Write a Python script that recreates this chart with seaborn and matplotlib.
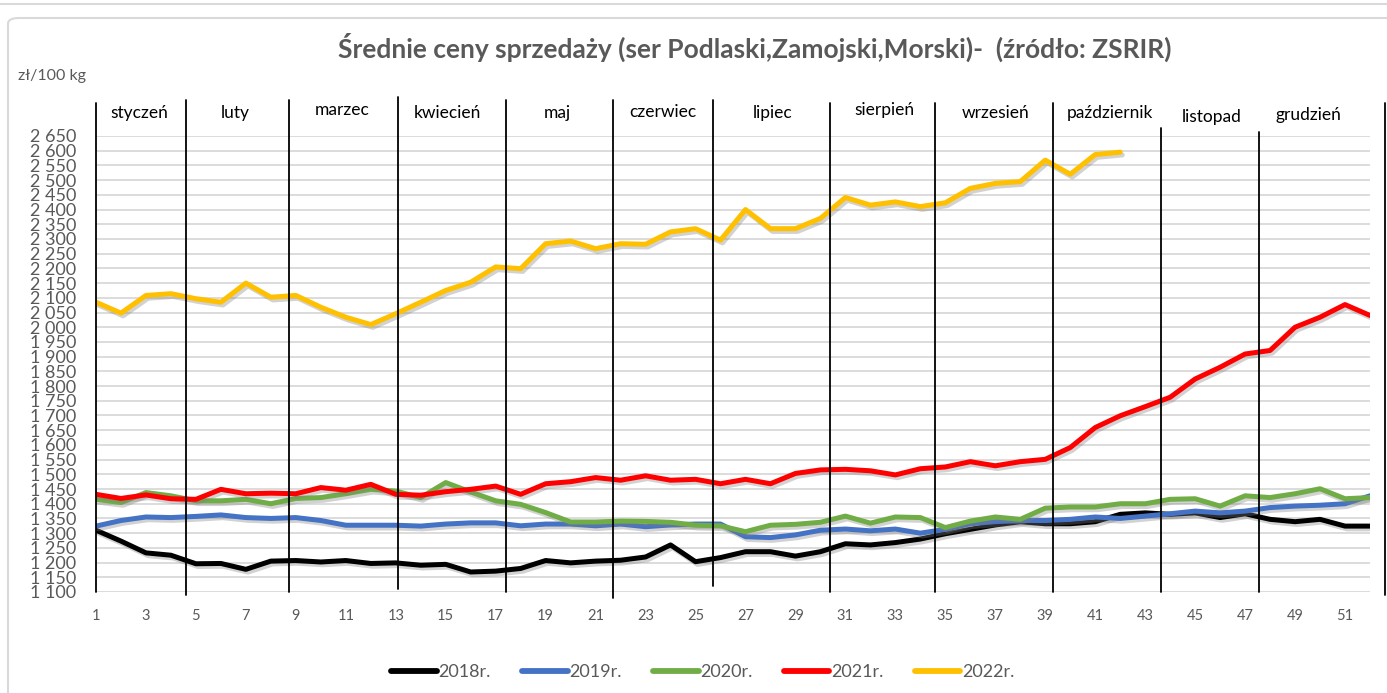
import matplotlib
matplotlib.use("Agg")
import matplotlib.pyplot as plt
import matplotlib.patheffects as pe
from matplotlib.patches import FancyBboxPatch
import seaborn as sns
import numpy as np
import pandas as pd

# ---------------- data ----------------
weeks = list(range(1, 53))
y2018 = [1310, 1273, 1233, 1225, 1196, 1197, 1177, 1205, 1207, 1202, 1207, 1197, 1199, 1191, 1194, 1168,
         1171, 1180, 1207, 1199, 1205, 1208, 1219, 1260, 1203, 1217, 1237, 1237, 1222, 1237, 1264, 1260,
         1268, 1280, 1298, 1313, 1328, 1339, 1332, 1332, 1339, 1364, 1369, 1364, 1369, 1353, 1366, 1347,
         1339, 1347, 1324, 1324]
y2019 = [1324, 1343, 1355, 1353, 1357, 1362, 1353, 1350, 1353, 1343, 1327, 1327, 1327, 1324, 1331, 1335,
         1335, 1325, 1331, 1331, 1325, 1331, 1322, 1328, 1331, 1331, 1288, 1285, 1294, 1310, 1314, 1308,
         1314, 1300, 1313, 1332, 1339, 1343, 1343, 1347, 1355, 1350, 1358, 1366, 1375, 1369, 1375, 1387,
         1392, 1395, 1400, 1427]
y2020 = [1415, 1404, 1438, 1427, 1410, 1410, 1415, 1400, 1418, 1421, 1434, 1449, 1443, 1421, 1472, 1440,
         1410, 1398, 1370, 1338, 1338, 1341, 1340, 1337, 1327, 1325, 1305, 1327, 1330, 1337, 1358, 1334,
         1355, 1353, 1319, 1341, 1355, 1347, 1385, 1389, 1389, 1400, 1400, 1415, 1417, 1392, 1427, 1421,
         1434, 1451, 1417, 1421]
y2021 = [1432, 1418, 1430, 1417, 1415, 1449, 1434, 1436, 1434, 1455, 1446, 1466, 1432, 1429, 1441, 1449,
         1460, 1432, 1468, 1475, 1489, 1480, 1495, 1480, 1483, 1468, 1483, 1468, 1503, 1515, 1517, 1512,
         1498, 1519, 1525, 1543, 1529, 1543, 1551, 1591, 1659, 1699, 1730, 1762, 1824, 1864, 1909, 1921,
         2000, 2034, 2077, 2040]
y2022 = [2085, 2048, 2108, 2114, 2097, 2085, 2150, 2102, 2108, 2068, 2034, 2009, 2046, 2085, 2125, 2153,
         2205, 2199, 2284, 2293, 2267, 2284, 2282, 2324, 2335, 2296, 2400, 2335, 2335, 2370, 2441, 2415,
         2426, 2410, 2423, 2472, 2489, 2495, 2568, 2520, 2587, 2595]
series_labels = ["2018r.", "2019r.", "2020r.", "2021r.", "2022r."]
months = ["styczeń", "luty", "marzec", "kwiecień", "maj", "czerwiec", "lipiec",
          "sierpień", "wrzesień", "październik", "listopad", "grudzień"]
title = "Średnie ceny sprzedaży (ser Podlaski,Zamojski,Morski)-  (źródło: ZSRIR)"
unit_label = "zł/100 kg"
y_ticks = list(range(1100, 2651, 50))
x_ticks = list(range(1, 52, 2))

# ---------------- layout / style ----------------
colors = ["#000000", "#4472C4", "#70AD47", "#FF0000", "#FFC000"]
sep_x = [1.0, 4.6, 8.73, 13.09, 17.41, 21.7, 25.7, 30.38, 34.59, 39.31, 43.63, 47.56, 52.6]
sep_top = [2762, 2773, 2773, 2783, 2773, 2773, 2773, 2762, 2762, 2762, 2677, 2664, 2762]
sep_bot = [1100, 1090, 1100, 1110, 1100, 1080, 1120, 1100, 1100, 1100, 1100, 1100, 1090]
lab_x = [2.72, 6.56, 10.85, 15.05, 19.45, 23.7, 28.1, 32.55, 37.03, 41.6, 45.68, 49.52]
lab_y = [2728, 2728, 2739, 2728, 2728, 2733, 2728, 2739, 2728, 2728, 2715, 2722]

sns.set_theme(style="white")
plt.rcParams["font.family"] = ["Lato", "DejaVu Sans"]

W, H = 1387, 693
fig = plt.figure(figsize=(W / 100, H / 100), dpi=100)
fig.patch.set_facecolor("white")

# frame of chart area
fig.add_artist(FancyBboxPatch((8 / W, -0.05), 1.2, (H - 18) / H + 0.05,
                              boxstyle="round,pad=0,rounding_size=0.008",
                              transform=fig.transFigure, fill=False,
                              edgecolor="#d9d9d9", linewidth=1.5))
fig.add_artist(plt.Line2D([0, 1], [1 - 4 / H, 1 - 4 / H], transform=fig.transFigure,
                          color="#d9d9d9", linewidth=1.5))

ax = fig.add_axes([96 / W, (H - 592) / H, (1370 - 96) / W, (592 - 136) / H])

rows = []
for lab, vals in zip(series_labels, [y2018, y2019, y2020, y2021, y2022]):
    for w, v in zip(weeks, vals):
        rows.append({"week": w, "price": v, "year": lab})
df = pd.DataFrame(rows)

shadow = [pe.SimpleLineShadow(offset=(1.5, -2), shadow_color="#808080", alpha=0.35), pe.Normal()]
for lab, col in zip(series_labels, colors):
    sub = df[df["year"] == lab]
    sns.lineplot(data=sub, x="week", y="price", ax=ax, color=col, linewidth=3.6,
                 label=lab, solid_capstyle="round", solid_joinstyle="round",
                 path_effects=shadow, zorder=3)

ax.set_xlim(1, 52)
ax.set_ylim(1100, 2650)
ax.set_yticks(y_ticks)
ax.set_yticklabels([f"{v:,}".replace(",", " ") for v in y_ticks], fontsize=13, color="#595959")
ax.set_xticks(x_ticks)
ax.set_xticklabels([str(v) for v in x_ticks], fontsize=10.5, color="#595959")
ax.tick_params(axis="both", length=0)
ax.tick_params(axis="y", pad=14)
ax.tick_params(axis="x", pad=12)
ax.yaxis.grid(True, color="#d9d9d9", linewidth=1.3)
ax.xaxis.grid(False)
ax.set_axisbelow(True)
for s in ax.spines.values():
    s.set_visible(False)
ax.set_xlabel("")
ax.set_ylabel("")

# month separators and labels
for x, t, b in zip(sep_x, sep_top, sep_bot):
    ax.plot([x, x], [b, t], color="black", linewidth=1.3, clip_on=False, zorder=5)
for name, x, y in zip(months, lab_x, lab_y):
    ax.text(x, y, name, ha="center", va="center", fontsize=12.5, color="black", clip_on=False)

fig.text(755 / W, 1 - 47 / H, title, ha="center", va="center", fontsize=19,
         fontweight="bold", color="#595959")
fig.text(18 / W, 1 - 76 / H, unit_label, ha="left", va="center", fontsize=11.5, color="#595959")

leg = ax.legend(loc="center", bbox_to_anchor=(703 / W, 21 / H), bbox_transform=fig.transFigure,
                ncol=5, frameon=False, fontsize=13, handlelength=2.5, handletextpad=0.1,
                columnspacing=1.75, labelcolor="#595959")
for h in leg.get_lines():
    h.set_linewidth(4.2)
    h.set_solid_capstyle("round")
    h.set_path_effects([])

fig.savefig("out.png", dpi=100, facecolor="white")
